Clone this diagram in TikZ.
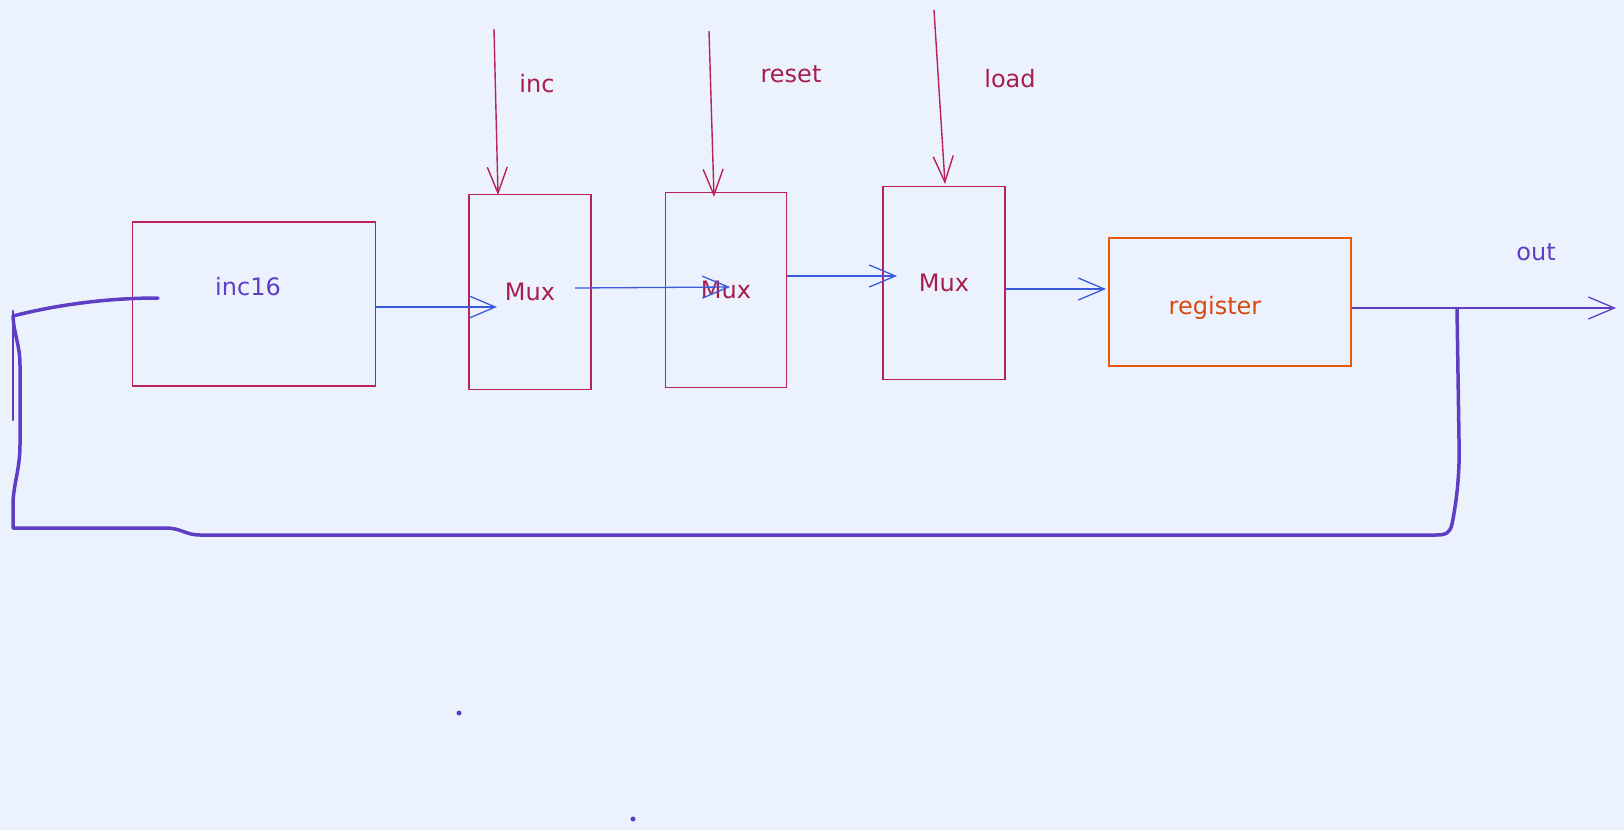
\documentclass[tikz,border=0pt]{standalone}
\usepackage{fontspec}
\setmainfont{DejaVu Sans}
\usetikzlibrary{arrows.meta}
\definecolor{bg}{RGB}{236,242,253}
\definecolor{crim}{RGB}{184,33,90}
\definecolor{crimtxt}{RGB}{166,30,77}
\definecolor{arrblue}{RGB}{59,91,219}
\definecolor{viol}{RGB}{95,61,196}
\definecolor{orng}{RGB}{232,89,12}
\definecolor{orngtxt}{RGB}{217,72,15}
\begin{document}
\begin{tikzpicture}[x=1pt,y=-1pt,
  box/.style={draw=crim, line width=1.6pt, inner sep=0pt},
  lbl/.style={font=\fontsize{24}{28}\selectfont, inner sep=0pt},
  flow/.style={draw=arrblue, line width=1.3pt, -{Straight Barb[length=26pt,width=22pt]}},
  ctrl/.style={draw=crim, line width=1.4pt, -{Straight Barb[length=26pt,width=20pt]}},
  fb/.style={draw=viol, line width=3.5pt, line cap=round, line join=round},
]
\fill[bg] (0,0) rectangle (1624,830);
\useasboundingbox (0,0) rectangle (1624,830);

% boxes
\node[box, minimum width=243pt, minimum height=164pt] (inc16) at (254,304) {};
\node[lbl, text=viol] (inc16lbl) at (248,287) {inc16};
\node[box, lbl, text=crimtxt, minimum width=122pt, minimum height=195pt] (mux1) at (530,292) {Mux};
\node[box, lbl, text=crimtxt, minimum width=121pt, minimum height=195pt] (mux2) at (726,290) {Mux};
\node[box, lbl, text=crimtxt, minimum width=122pt, minimum height=193pt] (mux3) at (944,283) {Mux};
\node[box, draw=orng, minimum width=242pt, minimum height=128pt] (register) at (1230,302) {};
\node[lbl, text=orngtxt] (reglbl) at (1215,308) {register};

% control labels
\node[lbl, text=crimtxt] (inclbl) at (537,84) {inc};
\node[lbl, text=crimtxt] (resetlbl) at (791,74) {reset};
\node[lbl, text=crimtxt] (loadlbl) at (1010,79) {load};
\node[lbl, text=viol] (outlbl) at (1536,252) {out};

% coordinates
\coordinate (t1) at (497,307);
\coordinate (s2) at (575,288);
\coordinate (t2) at (730,287);
\coordinate (t3) at (897,276);
\coordinate (t4) at (1106,289);
\coordinate (outend) at (1616,308);
\coordinate (incsrc) at (494,29);
\coordinate (incdst) at (498,195);
\coordinate (resetsrc) at (709,31);
\coordinate (resetdst) at (714,197);
\coordinate (loadsrc) at (934,10);
\coordinate (loaddst) at (945,184);
\coordinate (fbtap) at (1457,309);
\coordinate (fbend) at (158,298);
\coordinate (stubtop) at (13,311);
\coordinate (stubbot) at (13,420);

% data flow
\draw[flow] (inc16.east |- t1) -- (t1);
\draw[flow] (s2) -- (t2);
\draw[flow] (mux2.east |- t3) -- (t3);
\draw[flow] (mux3.east |- t4) -- (t4);
\draw[flow, draw=viol] (register.east |- outend) -- (outend);

% control inputs
\draw[ctrl] (incsrc) -- (incdst);
\draw[ctrl] (resetsrc) -- (resetdst);
\draw[ctrl] (loadsrc) -- (loaddst);

% feedback
\draw[fb] (fbtap) -- (1459,440) .. controls (1460,470) and (1457,500) .. (1452,524)
  .. controls (1450,533) and (1446,535) .. (1436,535)
  -- (200,535) .. controls (185,535) and (182,528) .. (165,528) -- (13,528)
  -- (13,505) .. controls (13,485) and (20,470) .. (20,445) -- (20,365)
  .. controls (20,345) and (14,335) .. (13,316)
  .. controls (60,304) and (110,298) .. (fbend);
\draw[draw=viol, line width=2.5pt, line cap=round] (stubtop) -- (stubbot);

% dots
\fill[viol] (459,713) circle (2.5pt);
\fill[viol] (633,819) circle (2.5pt);
\end{tikzpicture}
\end{document}
